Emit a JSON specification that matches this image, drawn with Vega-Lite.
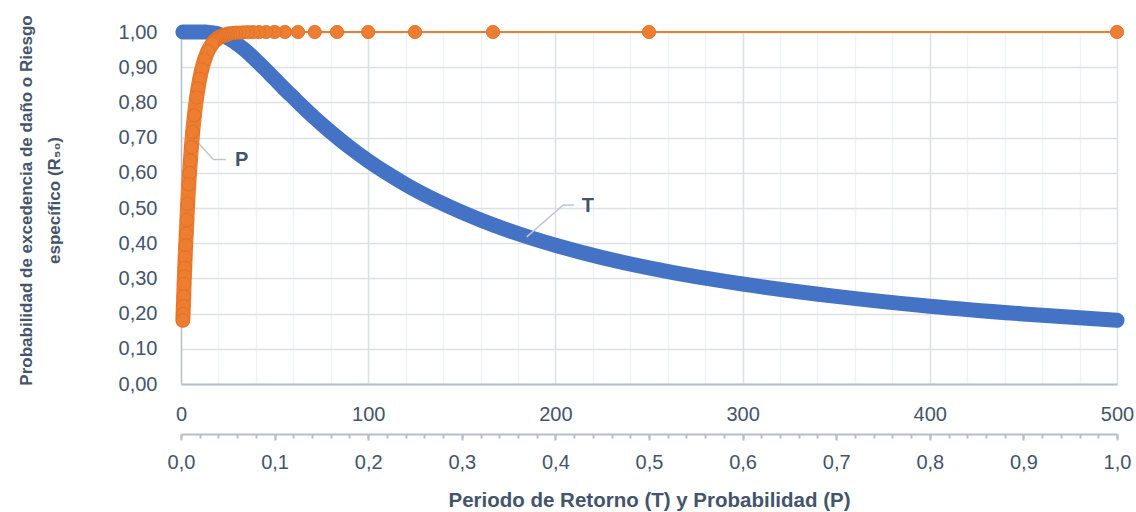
{
  "$schema": "https://vega.github.io/schema/vega-lite/v6.json",
  "width": 936,
  "height": 352,
  "autosize": {"type": "none"},
  "padding": {"left": 181, "top": 32, "right": 19, "bottom": 128},
  "background": "white",
  "config": {
    "view": {"stroke": null},
    "font": "Liberation Sans",
    "axis": {
      "labelFont": "Liberation Sans",
      "labelFontSize": 20,
      "labelColor": "#44546A",
      "titleFont": "Liberation Sans",
      "titleFontWeight": "bold",
      "titleColor": "#44546A",
      "domainColor": "#B4BFCD",
      "tickColor": "#B4BFCD",
      "labelOverlap": false,
      "labelFlush": false
    },
    "axisY": {
      "values": [0, 0.1, 0.2, 0.3, 0.4, 0.5, 0.6, 0.7, 0.8, 0.9, 1],
      "tickCount": 11,
      "labelOverlap": false,
      "ticks": false,
      "tickSize": 0,
      "labelPadding": 24,
      "domain": true,
      "domainWidth": 1.5,
      "grid": true,
      "gridWidth": 1.5,
      "gridColor": "#DCE0E7",
      "titleFontSize": 17,
      "titleLineHeight": 28,
      "titlePadding": 55,
      "titleY": 168
    }
  },
  "datasets": {
    "r": [
      {"T": 1, "P": 1, "R": 1},
      {"T": 2, "P": 0.5, "R": 1},
      {"T": 3, "P": 0.3333, "R": 1},
      {"T": 4, "P": 0.25, "R": 1},
      {"T": 5, "P": 0.2, "R": 1},
      {"T": 6, "P": 0.1667, "R": 1},
      {"T": 7, "P": 0.1429, "R": 1},
      {"T": 8, "P": 0.125, "R": 1},
      {"T": 9, "P": 0.1111, "R": 1},
      {"T": 10, "P": 0.1, "R": 1},
      {"T": 11, "P": 0.0909, "R": 0.9999},
      {"T": 12, "P": 0.0833, "R": 0.9998},
      {"T": 13, "P": 0.0769, "R": 0.9997},
      {"T": 14, "P": 0.0714, "R": 0.9994},
      {"T": 15, "P": 0.0667, "R": 0.999},
      {"T": 16, "P": 0.0625, "R": 0.998},
      {"T": 17, "P": 0.0588, "R": 0.998},
      {"T": 18, "P": 0.0556, "R": 0.997},
      {"T": 19, "P": 0.0526, "R": 0.996},
      {"T": 20, "P": 0.05, "R": 0.994},
      {"T": 21, "P": 0.0476, "R": 0.992},
      {"T": 22, "P": 0.0455, "R": 0.99},
      {"T": 23, "P": 0.0435, "R": 0.988},
      {"T": 24, "P": 0.0417, "R": 0.986},
      {"T": 25, "P": 0.04, "R": 0.983},
      {"T": 26, "P": 0.0385, "R": 0.98},
      {"T": 27, "P": 0.037, "R": 0.977},
      {"T": 28, "P": 0.0357, "R": 0.974},
      {"T": 29, "P": 0.0345, "R": 0.97},
      {"T": 30, "P": 0.0333, "R": 0.966},
      {"T": 35, "P": 0.0286, "R": 0.945},
      {"T": 40, "P": 0.025, "R": 0.92},
      {"T": 45, "P": 0.0222, "R": 0.894},
      {"T": 50, "P": 0.02, "R": 0.867},
      {"T": 55, "P": 0.0182, "R": 0.84},
      {"T": 60, "P": 0.0167, "R": 0.814},
      {"T": 70, "P": 0.0143, "R": 0.763},
      {"T": 80, "P": 0.0125, "R": 0.716},
      {"T": 90, "P": 0.0111, "R": 0.673},
      {"T": 100, "P": 0.01, "R": 0.634},
      {"T": 110, "P": 0.0091, "R": 0.599},
      {"T": 120, "P": 0.0083, "R": 0.567},
      {"T": 140, "P": 0.0071, "R": 0.512},
      {"T": 160, "P": 0.0063, "R": 0.466},
      {"T": 180, "P": 0.0056, "R": 0.427},
      {"T": 200, "P": 0.005, "R": 0.394},
      {"T": 225, "P": 0.0044, "R": 0.359},
      {"T": 250, "P": 0.004, "R": 0.33},
      {"T": 275, "P": 0.0036, "R": 0.305},
      {"T": 300, "P": 0.0033, "R": 0.284},
      {"T": 350, "P": 0.0029, "R": 0.249},
      {"T": 400, "P": 0.0025, "R": 0.221},
      {"T": 450, "P": 0.0022, "R": 0.199},
      {"T": 500, "P": 0.002, "R": 0.181}
    ],
    "lead": [
      {"g": "P", "o": 1, "T": 5.7, "R": 0.705},
      {"g": "P", "o": 2, "T": 17.3, "R": 0.638},
      {"g": "P", "o": 3, "T": 24.0, "R": 0.638},
      {"g": "T", "o": 1, "T": 184.7, "R": 0.418},
      {"g": "T", "o": 2, "T": 204.2, "R": 0.5085},
      {"g": "T", "o": 3, "T": 209.9, "R": 0.5085}
    ],
    "lab": [
      {"label": "P", "T": 28.8, "R": 0.636},
      {"label": "T", "T": 214.1, "R": 0.505}
    ],
    "ends": [{"T": 0, "P": 0}, {"T": 500, "P": 1}]
  },
  "layer": [
    {
      "data": {"name": "ends"},
      "mark": {"type": "point", "opacity": 0},
      "encoding": {
        "x": {
          "field": "T", "type": "quantitative",
          "scale": {"domain": [0, 500], "nice": false, "zero": true},
          "axis": {
            "orient": "bottom",
            "values": [20, 40, 60, 80, 120, 140, 160, 180, 220, 240, 260, 280, 320, 340, 360, 380, 420, 440, 460, 480],
            "labels": false, "ticks": false, "domain": false,
            "grid": true, "gridColor": "#F0F2F5", "gridWidth": 1.5,
            "title": null
          }
        }
      }
    },
    {
      "data": {"name": "ends"},
      "mark": {"type": "point", "opacity": 0},
      "encoding": {
        "x": {
          "field": "T", "type": "quantitative",
          "scale": {"domain": [0, 500], "nice": false, "zero": true},
          "axis": {
            "orient": "bottom",
            "values": [100, 200, 300, 400, 500],
            "labels": false, "ticks": false, "domain": false,
            "grid": true, "gridColor": "#DCE0E7", "gridWidth": 1.5,
            "title": null
          }
        }
      }
    },
    {
      "layer": [
        {
          "data": {"name": "r"},
          "mark": {"type": "line", "color": "#4472C4", "strokeWidth": 15, "strokeCap": "round", "strokeJoin": "round", "interpolate": "monotone"},
          "encoding": {
            "x": {
              "field": "T", "type": "quantitative",
              "scale": {"domain": [0, 500], "nice": false, "zero": true},
              "axis": {
                "orient": "bottom",
                "values": [0, 100, 200, 300, 400, 500],
                "ticks": false,
                "tickSize": 0,
                "labelPadding": 20,
                "labelOverlap": false,
                "domain": true,
                "domainWidth": 2,
                "grid": false,
                "zindex": 1,
                "title": null
              }
            },
            "y": {
              "field": "R", "type": "quantitative",
              "scale": {"domain": [0, 1], "nice": false},
              "axis": {
                "values": [0, 0.1, 0.2, 0.3, 0.4, 0.5, 0.6, 0.7, 0.8, 0.9, 1],
                "labelExpr": "replace(format(datum.value, '.2f'), '.', ',')",
                "title": ["Probabilidad de excedencia de daño o Riesgo", "específico (R₅₀)"]
              }
            }
          }
        },
        {
          "data": {"name": "lead"},
          "mark": {"type": "line", "color": "#BFC6D1", "strokeWidth": 1.5},
          "encoding": {
            "x": {"field": "T", "type": "quantitative"},
            "y": {"field": "R", "type": "quantitative"},
            "detail": {"field": "g"},
            "order": {"field": "o"}
          }
        },
        {
          "data": {"name": "lab"},
          "mark": {"type": "text", "align": "left", "baseline": "middle", "fontSize": 20, "fontWeight": "bold", "color": "#44546A", "font": "Liberation Sans"},
          "encoding": {
            "x": {"field": "T", "type": "quantitative"},
            "y": {"field": "R", "type": "quantitative"},
            "text": {"field": "label"}
          }
        }
      ]
    },
    {
      "layer": [
        {
          "data": {"name": "r"},
          "mark": {"type": "line", "color": "#ED7D31", "strokeWidth": 2, "interpolate": "monotone"},
          "encoding": {
            "x": {
              "field": "P", "type": "quantitative",
              "scale": {"domain": [0, 1], "nice": false, "zero": true},
              "axis": {
                "orient": "bottom",
                "offset": 50,
                "values": [0, 0.1, 0.2, 0.3, 0.4, 0.5, 0.6, 0.7, 0.8, 0.9, 1],
                "labelExpr": "replace(format(datum.value, '.1f'), '.', ',')",
                "labelOverlap": false,
                "ticks": true,
                "tickSize": 6,
                "tickWidth": 2,
                "labelPadding": 12,
                "domain": true,
                "domainWidth": 2,
                "grid": false,
                "title": "Periodo de Retorno (T) y Probabilidad (P)",
                "titleFontSize": 20.5,
                "titlePadding": 18
              }
            },
            "y": {"field": "R", "type": "quantitative"}
          }
        },
        {
          "data": {"name": "r"},
          "transform": [{"filter": "datum.T >= 20"}],
          "mark": {"type": "line", "color": "#ED7D31", "strokeWidth": 15, "strokeCap": "round", "strokeJoin": "round", "interpolate": "monotone"},
          "encoding": {
            "x": {"field": "P", "type": "quantitative"},
            "y": {"field": "R", "type": "quantitative"}
          }
        },
        {
          "data": {"name": "r"},
          "mark": {"type": "circle", "color": "#ED7D31", "size": 177, "opacity": 1, "stroke": "#DD6E26", "strokeWidth": 0.8},
          "encoding": {
            "x": {"field": "P", "type": "quantitative"},
            "y": {"field": "R", "type": "quantitative"}
          }
        }
      ]
    },
    {
      "data": {"name": "ends"},
      "mark": {"type": "point", "opacity": 0},
      "encoding": {
        "x": {
          "field": "P", "type": "quantitative",
          "scale": {"domain": [0, 1], "nice": false, "zero": true},
          "axis": {
            "orient": "bottom",
            "offset": 50,
            "values": [0, 0.02, 0.04, 0.06, 0.08, 0.1, 0.12, 0.14, 0.16, 0.18, 0.2, 0.22, 0.24, 0.26, 0.28, 0.3, 0.32, 0.34, 0.36, 0.38, 0.4, 0.42, 0.44, 0.46, 0.48, 0.5, 0.52, 0.54, 0.56, 0.58, 0.6, 0.62, 0.64, 0.66, 0.68, 0.7, 0.72, 0.74, 0.76, 0.78, 0.8, 0.82, 0.84, 0.86, 0.88, 0.9, 0.92, 0.94, 0.96, 0.98, 1],
            "labels": false,
            "ticks": true,
            "tickSize": 4,
            "tickWidth": 2,
            "domain": false,
            "grid": false,
            "title": null
          }
        }
      }
    }
  ],
  "resolve": {"scale": {"x": "independent"}}
}
